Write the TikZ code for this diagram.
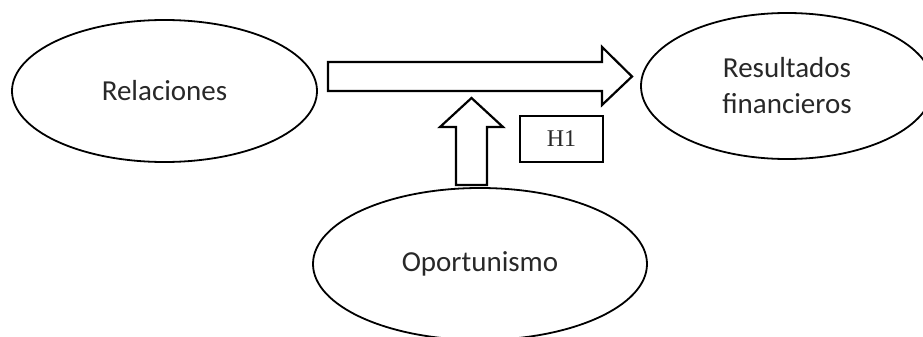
\documentclass[tikz,border=0pt]{standalone}
\usepackage{fontspec}
\setsansfont{Carlito}
\newfontfamily\hfont{Liberation Serif}
\usetikzlibrary{shapes.geometric, positioning}
\definecolor{mytext}{RGB}{40,40,40}
\tikzset{
  oval/.style={draw, ellipse, line width=1.8, inner sep=0, text=mytext,
    font=\sffamily\fontsize{29}{36}\selectfont, align=center},
  blockarrow/.style={draw, line width=2.2, line join=miter},
  labelbox/.style={draw, rectangle, line width=2, inner sep=0, text=mytext,
    font=\hfont\fontsize{24}{26}\selectfont}
}

\begin{document}
\begin{tikzpicture}[x=1pt,y=-1pt]
\useasboundingbox (0,0) rectangle (923,337);

% ovals
\node[oval, minimum width=305, minimum height=142] (rel) at (164.5,91) {Relaciones};
\node[oval, minimum width=292, minimum height=146] (res) at (787,86) {Resultados\\financieros};
\node[oval, minimum width=334, minimum height=152] (opo) at (480,264) {Oportunismo};

% block arrows
\draw[blockarrow] (328,62) -- (602,62) -- (602,47) -- (632,76.5) -- (602,105) -- (602,91) -- (328,91) -- cycle;
\draw[blockarrow] (456,185) -- (456,127) -- (440,127) -- (471.5,98) -- (503,127) -- (487,127) -- (487,185) -- cycle;

% hypothesis label
\node[labelbox, minimum width=83, minimum height=46] (h1) at (561.5,139) {H1};
\end{tikzpicture}
\end{document}
